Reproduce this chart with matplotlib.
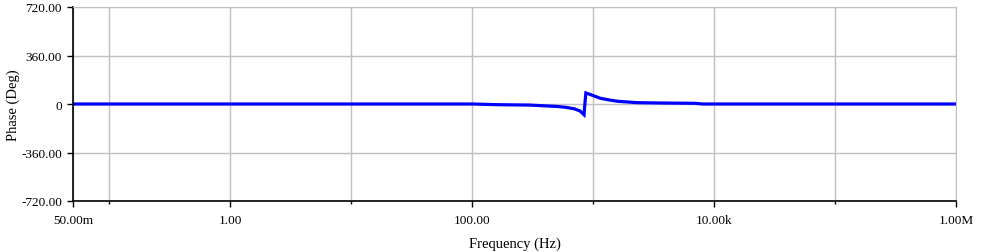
import matplotlib
matplotlib.use("Agg")
import matplotlib.pyplot as plt
from matplotlib.ticker import FixedLocator, NullFormatter

# Phase response
freq_hz = [0.05, 1.0, 100.0, 160.0, 300.0, 365.0, 500.0, 600.0, 700.0, 780.0,
           840.0, 850.0, 870.0, 950.0, 1050.0, 1150.0, 1400.0, 1600.0,
           2300.0, 4000.0, 7000.0, 8000.0, 1e5, 1e6]
phase_deg = [0.0, 0.0, 0.0, -5.0, -8.0, -12.0, -18.0, -25.0, -36.0, -52.0,
             -80.0, -20.0, 82.0, 70.0, 55.0, 42.0, 28.0, 20.0,
             10.0, 7.0, 5.0, 0.0, 0.0, 0.0]

label_ticks = [0.05, 1.0, 100.0, 1e4, 1e6]
label_text = ["50.00m", "1.00", "100.00", "10.00k", "1.00M"]
minor_ticks = [0.1, 10.0, 1e3, 1e5]
y_ticks = [-720, -360, 0, 360, 720]
y_text = ["-720.00", "-360.00", "0", "360.00", "720.00"]

plt.rcParams["font.family"] = ["Liberation Serif", "DejaVu Serif"]
plt.rcParams["font.size"] = 9.5

fig = plt.figure(figsize=(10.04, 2.53), dpi=100)
ax = fig.add_axes([73 / 1004, 1 - 202 / 253, (956 - 73) / 1004, (202 - 8) / 253])

ax.plot(freq_hz, phase_deg, color="#0000ff", linewidth=2.3, solid_joinstyle="miter")

ax.set_xscale("log")
ax.set_xlim(0.05, 1e6)
ax.set_ylim(-720, 720)

ax.xaxis.set_major_locator(FixedLocator(label_ticks))
ax.set_xticklabels(label_text)
ax.xaxis.set_minor_locator(FixedLocator(minor_ticks))
ax.xaxis.set_minor_formatter(NullFormatter())
ax.set_yticks(y_ticks)
ax.set_yticklabels(y_text)

ax.tick_params(axis="both", which="major", direction="out", length=4, width=1,
               color="black", labelcolor="black")
ax.tick_params(axis="x", which="minor", direction="out", length=2, width=1, color="black")
ax.tick_params(axis="x", pad=5)
ax.tick_params(axis="y", pad=4)

ax.grid(True, which="both", color="#c0c0c0", linewidth=1)
ax.set_axisbelow(True)

for side in ("top", "right"):
    ax.spines[side].set_color("#c0c0c0")
for side in ("left", "bottom"):
    ax.spines[side].set_color("black")
    ax.spines[side].set_linewidth(1.2)

ax.set_xlabel("Frequency (Hz)", fontsize=10.5, labelpad=8)
ax.set_ylabel("Phase (Deg)", fontsize=10.5, labelpad=1)

fig.savefig("out.png", dpi=100)
